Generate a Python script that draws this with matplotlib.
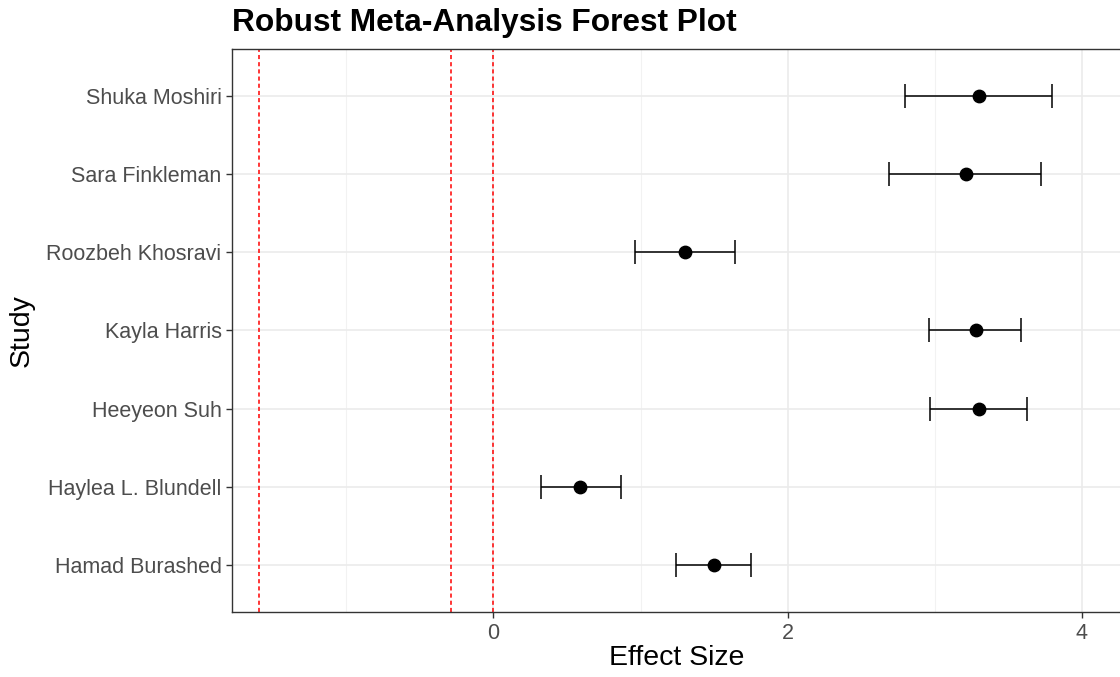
import matplotlib.pyplot as plt
import numpy as np

plt.rcParams['font.family'] = ['Liberation Sans', 'DejaVu Sans']

# studies listed bottom to top
studies = ['Hamad Burashed', 'Haylea L. Blundell', 'Heeyeon Suh', 'Kayla Harris',
           'Roozbeh Khosravi', 'Sara Finkleman', 'Shuka Moshiri']
effect = [1.50, 0.59, 3.30, 3.28, 1.30, 3.21, 3.30]
ci_low = [1.24, 0.32, 2.97, 2.96, 0.96, 2.69, 2.80]
ci_high = [1.75, 0.87, 3.63, 3.59, 1.64, 3.72, 3.80]
ref_lines = [-1.596, -0.29, 0.0]

fig = plt.figure(figsize=(11.2, 6.77), dpi=100)
ax = fig.add_axes([232 / 1120, 1 - 612 / 677, (1120 - 232) / 1120, (612 - 49) / 677])

y = np.arange(1, len(studies) + 1)
eff = np.array(effect)
lo = eff - np.array(ci_low)
hi = np.array(ci_high) - eff

ax.set_xlim(-1.778, 4.26)
ax.set_ylim(0.4, len(studies) + 0.6)

# grid
for gx in [-1, 1, 3]:
    ax.axvline(gx, color='#F2F2F2', lw=0.8, zorder=0)
for gx in [0, 2, 4]:
    ax.axvline(gx, color='#EBEBEB', lw=1.2, zorder=0)
for gy in y:
    ax.axhline(gy, color='#EBEBEB', lw=1.2, zorder=0)

for rx in ref_lines:
    ax.axvline(rx, color='#FF0000', lw=1.1, ls=(0, (2.7, 2.0)), zorder=1)

ax.errorbar(effect, y, xerr=[lo, hi], fmt='none', ecolor='black',
            elinewidth=1.1, capsize=8.3, capthick=1.1, zorder=2)
ax.scatter(effect, y, s=80, color='black', zorder=3)

ax.set_yticks(y)
ax.set_yticklabels(studies)
ax.set_xticks([0, 2, 4])
ax.tick_params(axis='both', colors='#333333', labelcolor='#4D4D4D',
               labelsize=15.5, length=4, width=1)
ax.tick_params(axis='x', pad=4)

for s in ['top', 'left', 'bottom']:
    ax.spines[s].set_color('#333333')
    ax.spines[s].set_linewidth(1)
ax.spines['right'].set_visible(False)

ax.set_xlabel('Effect Size', fontsize=20.5, va='center')
ax.xaxis.set_label_coords((677 - 232) / 888, (612 - 658) / 563)
ax.set_ylabel('Study', fontsize=20.5, va='center')
ax.yaxis.set_label_coords((22 - 232) / 888, 0.5)
fig.text(232 / 1120, 1 - 23 / 677, 'Robust Meta-Analysis Forest Plot',
         fontsize=22.8, fontweight='bold', va='center', ha='left')

fig.savefig('out.png', dpi=100)
